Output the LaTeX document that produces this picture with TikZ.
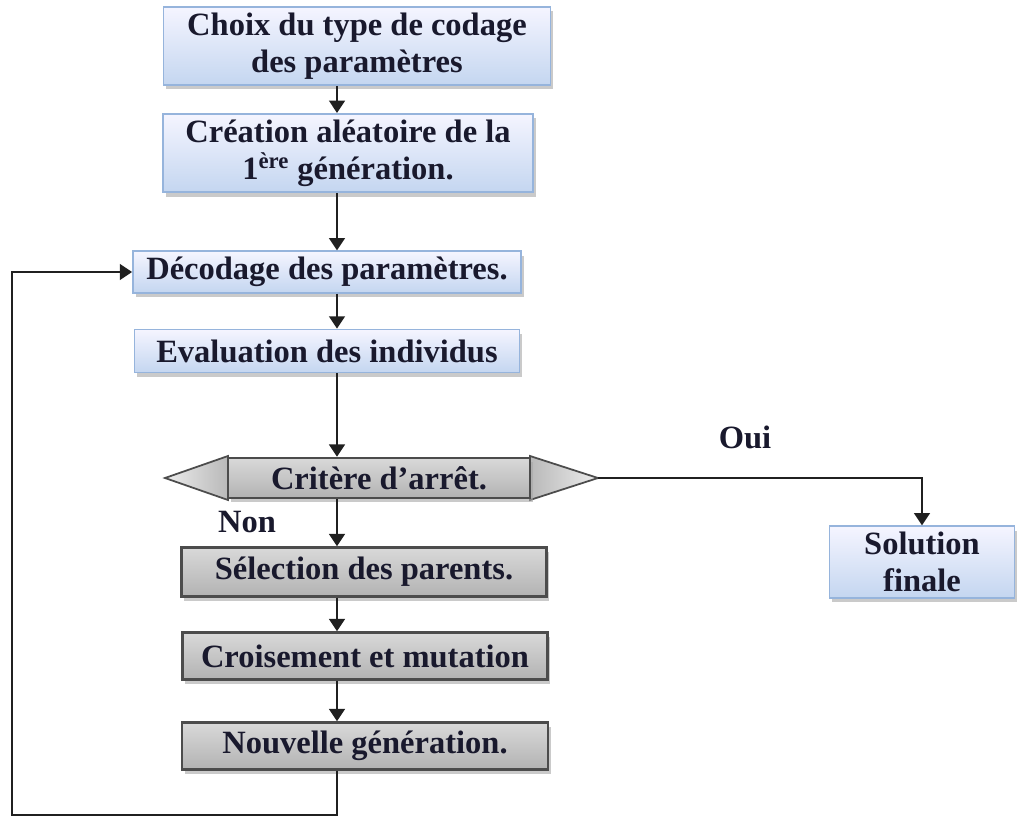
\documentclass[tikz,border=0pt]{standalone}
\usepackage{fontspec}
\setmainfont{Liberation Serif}
\usetikzlibrary{arrows.meta, shadows}
\definecolor{ink}{RGB}{25,25,45}
\definecolor{boxblue}{RGB}{196,214,240}
\definecolor{edgeblue}{RGB}{150,180,220}
\tikzset{>={Triangle[width=9pt,length=7pt]}}
\tikzset{
  bluebox/.style={draw=edgeblue, line width=1pt, top color=blue!4, bottom color=boxblue,
    align=center, text=ink, font=\fontsize{18.5}{21}\selectfont\bfseries,
    drop shadow={shadow xshift=1.5pt, shadow yshift=-2.5pt, fill=gray!70, opacity=0.6}},
  graybox/.style={draw=gray!60!black, line width=1.4pt, top color=gray!30, middle color=white, bottom color=gray!60,
    align=center, text=ink, font=\fontsize{18.5}{21}\selectfont\bfseries,
    drop shadow={shadow xshift=1.5pt, shadow yshift=-2.5pt, fill=gray!70, opacity=0.6}},
  link/.style={->, line width=1.1pt, draw=gray!25!black},
  tag/.style={text=ink, font=\fontsize{18.5}{21}\selectfont\bfseries}
}

\begin{document}
\begin{tikzpicture}[x=0.02cm, y=-0.02cm]
    \useasboundingbox (0,0) rectangle (1017,824);
    \coordinate (spine) at (337,0);
    \coordinate (loop) at (12,815);

    \node [bluebox, minimum width=7.74cm, minimum height=1.36cm] (choix) at (357,46) {Choix du type de codage\\des paramètres};
    \node [bluebox, minimum width=7.40cm, minimum height=1.40cm] (creation) at (348,153) {Création aléatoire de la\\1\textsuperscript{ère} génération.};
    \node [bluebox, minimum width=7.76cm, minimum height=0.82cm] (decodage) at (327,272) {Décodage des paramètres.};
    \node [bluebox, minimum width=7.70cm, minimum height=0.86cm] (evaluation) at (327,351) {Evaluation des individus};

    % critere d'arret, rectangle with two side triangles
    \shade [left color=gray!15, right color=gray!55, draw=gray!60!black, line width=1pt] (228,456) -- (165,478) -- (228,500) -- cycle;
    \shade [left color=gray!55, right color=gray!15, draw=gray!60!black, line width=1pt] (530,456) -- (598,478) -- (530,500) -- cycle;
    \coordinate (tipR) at (598,478);
    \node [graybox, minimum width=6.04cm, minimum height=0.80cm] (critere) at (379,478) {Critère d’arrêt.};

    \node [graybox, minimum width=7.30cm, minimum height=0.98cm] (selection) at (364,572) {Sélection des parents.};
    \node [graybox, minimum width=7.30cm, minimum height=0.94cm] (croisement) at (365,656) {Croisement et mutation};
    \node [graybox, minimum width=7.32cm, minimum height=0.94cm] (nouvelle) at (365,746) {Nouvelle génération.};
    \node [bluebox, minimum width=3.70cm, minimum height=1.40cm] (solution) at (922,562) {Solution\\finale};

    \node [tag] (oui) at (745,437) {Oui};
    \node [tag] (non) at (247,522) {Non};

    \draw [link] (choix.south -| spine) -- (creation.north -| spine);
    \draw [link] (creation.south -| spine) -- (decodage.north -| spine);
    \draw [link] (decodage.south -| spine) -- (evaluation.north -| spine);
    \draw [link] (evaluation.south -| spine) -- (critere.north -| spine);
    \draw [link] (critere.south -| spine) -- (selection.north -| spine);
    \draw [link] (selection.south -| spine) -- (croisement.north -| spine);
    \draw [link] (croisement.south -| spine) -- (nouvelle.north -| spine);
    \draw [link] (nouvelle.south -| spine) |- (loop) |- (decodage.west);
    \draw [link] (tipR) -| (solution.north);
\end{tikzpicture}
\end{document}
